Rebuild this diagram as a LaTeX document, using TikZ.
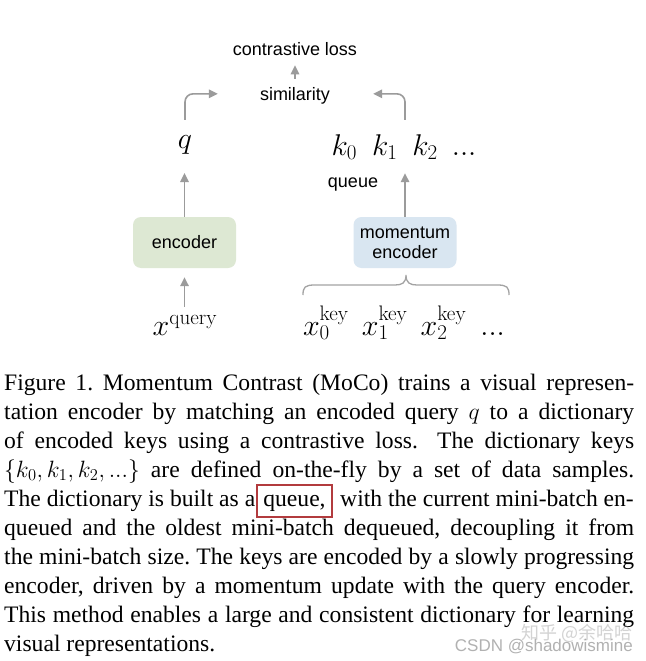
\RequirePackage{fix-cm}
\documentclass[tikz,border=0pt]{standalone}
\usepackage[no-math]{fontspec}
\setmainfont{Liberation Serif}
\newfontfamily\arialf{Liberation Sans}
\newfontfamily\cjkf{Noto Sans CJK SC}
\usetikzlibrary{arrows.meta,calc}
\definecolor{arrgray}{HTML}{9B9B9B}
\definecolor{bracegray}{HTML}{A3A3A3}
\definecolor{encgreen}{HTML}{DDE8D3}
\definecolor{encblue}{HTML}{D9E6F1}
\definecolor{boxred}{HTML}{B23B3E}
\definecolor{wmgray}{HTML}{9E9E9E}
\newcommand{\capline}[1]{\makebox[630pt][s]{#1}}
\frenchspacing
\tikzset{
  lbl/.style={font=\arialf\fontsize{18}{20}\selectfont, inner sep=0pt},
  mth/.style={font=\fontsize{30}{34}\selectfont, inner sep=0pt},
  arr/.style={draw=arrgray, line width=1.6pt, -{Triangle[length=9pt,width=8.5pt]}},
  encbox/.style={lbl, rounded corners=8pt, minimum width=103pt, minimum height=51pt, align=center},
  capt/.style={font=\fontsize{23.6}{29.1}\selectfont, inner sep=0pt, anchor=base west},
  wmark/.style={inner sep=0pt, anchor=base east},
}
\begin{document}
\begin{tikzpicture}[x=1pt,y=-1pt]
\useasboundingbox[fill=white] (0,0) rectangle (645,661);
% diagram
\node[lbl, anchor=base] (closs) at (295,56) {contrastive loss};
\node[lbl, anchor=base] (sim) at (295,100) {similarity};
\node[mth, anchor=base] (q) at (185,148) {$q$};
\node[mth, anchor=base] (krow) at (404,155) {$k_0\hspace{15pt}k_1\hspace{15pt}k_2\hspace{14pt}...$};
\node[lbl, anchor=base] (queue) at (353,187.5) {queue};
\node[encbox, fill=encgreen] (enc) at (184.5,242.5) {encoder};
\node[encbox, fill=encblue] (menc) at (405,242.5) {momentum\\encoder};
\node[mth, anchor=base] (xq) at (185,335) {$x^{\mathrm{query}}$};
\node[mth, anchor=base] (xkey) at (404,335) {$x_0^{\mathrm{key}}\hspace{13pt}x_1^{\mathrm{key}}\hspace{13pt}x_2^{\mathrm{key}}\hspace{14pt}...$};
% connectors
\draw[arr, shorten <=8pt, shorten >=9pt] (sim) -- (closs);
\draw[arr, shorten >=19pt] (enc.north) -- (enc.north |- q.south);
\draw[arr, shorten >=13.5pt] (menc.north) -- (menc.north |- krow.south);
\draw[arr, shorten >=9pt] (enc.south |- xq.north) ++(0,-8) -- (enc.south);
\draw[arr, rounded corners=8pt, shorten <=15pt] (q.north) |- ($(sim.west)+(-42,-1.5)$);
\draw[arr, rounded corners=8pt, shorten <=14pt] (menc.north |- krow.north) |- ($(sim.east)+(43,-1.5)$);
% brace
\draw[bracegray, line width=1.3pt] (303,295) .. controls (303,287) and (305,285) .. (315,285) -- (395,285) .. controls (402,285) and (406,283) .. (406,275) .. controls (406,283) and (410,285) .. (417,285) -- (497,285) .. controls (507,285) and (509,287) .. (509,295);
% caption
\node[capt] (l1) at (4,390) {\capline{Figure 1. Momentum Contrast (MoCo) trains a visual represen-}};
\node[capt] (l2) at (4,419.1) {\capline{tation encoder by matching an encoded query $q$ to a dictionary}};
\node[capt] (l3) at (4,448.2) {\capline{of encoded keys using a contrastive loss.\hspace{5pt plus 2pt} The dictionary keys}};
\node[capt] (l4) at (4,477.3) {\capline{$\{k_0,k_1,k_2,...\}$ are defined on-the-fly by a set of data samples.}};
\node[capt] (l5a) at (4,506.4) {The dictionary is built as a};
\node[capt, anchor=base] (qw) at (294.5,506.4) {queue,};
\draw[boxred, line width=1.9pt] ($(qw.base)+(-37.2,-21.5)$) rectangle ($(qw.base)+(37.2,10.3)$);
\node[capt, anchor=base east] (l5c) at (634,506.4) {with the current mini-batch en-};
\node[capt] (l6) at (4,535.5) {\capline{queued and the oldest mini-batch dequeued, decoupling it from}};
\node[capt] (l7) at (4,564.6) {\capline{the mini-batch size. The keys are encoded by a slowly progressing}};
\node[capt] (l8) at (4,593.7) {\capline{encoder, driven by a momentum update with the query encoder.}};
\node[capt] (l9) at (4,622.8) {\capline{This method enables a large and consistent dictionary for learning}};
\node[capt] (l10) at (4,651.9) {visual representations.};
% watermark
\node[wmark, font=\cjkf\fontsize{18}{20}\selectfont, text=wmgray, opacity=0.45] (wm1) at (633,639) {知乎 @余哈哈};
\node[wmark, font=\arialf\fontsize{17}{20}\selectfont, text=wmgray, opacity=0.8] (wm2) at (633,651.5) {CSDN @shadowismine};
\end{tikzpicture}
\end{document}
